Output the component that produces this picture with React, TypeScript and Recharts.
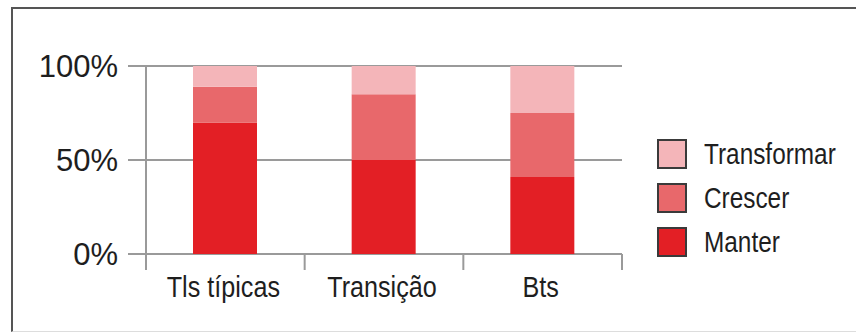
import { BarChart, Bar, XAxis, YAxis, CartesianGrid } from "recharts"

const categories = ["Tls típicas", "Transição", "Bts"]
const manter = [70, 50, 41]
const crescer = [19, 35, 34]
const transformar = [11, 15, 25]
const yTicks = [0, 50, 100]

const series = [
  { key: "manter", name: "Manter", color: "#e31f25" },
  { key: "crescer", name: "Crescer", color: "#e8686b" },
  { key: "transformar", name: "Transformar", color: "#f4b5b9" },
]

const data = categories.map((label, i) => ({
  label,
  manter: manter[i],
  crescer: crescer[i],
  transformar: transformar[i],
}))

const W = 856
const H = 334
const margin = { top: 66, right: 234, bottom: 0, left: 0 }
const yAxisWidth = 146
const plotWidth = W - margin.left - margin.right - yAxisWidth
const halfBand = plotWidth / categories.length / 2
const font = "'Liberation Sans', Arial, sans-serif"
const axisGray = "#9a9a9a"

function XTick({ x, y, payload, index }: any) {
  const last = index === categories.length - 1
  return (
    <g>
      <line x1={x - halfBand} y1={y - 8} x2={x - halfBand} y2={y + 8} stroke={axisGray} strokeWidth={2} />
      {last && (
        <line x1={x + halfBand} y1={y - 8} x2={x + halfBand} y2={y + 8} stroke={axisGray} strokeWidth={2} />
      )}
      <g transform={`translate(${x - 2},${y + 35}) scale(0.84,1)`}>
        <text x={0} y={0} textAnchor="middle" fontSize={30} fill="#1e1e1e" fontFamily={font}>
          {payload.value}
        </text>
      </g>
    </g>
  )
}

function LegendBox() {
  const items = [...series].reverse()
  return (
    <div style={{ position: "absolute", left: 657, top: 132, fontFamily: font }}>
      {items.map((s) => (
        <div key={s.key} style={{ display: "flex", alignItems: "center", height: 44 }}>
          <div
            style={{
              width: 26,
              height: 26,
              background: s.color,
              border: "2px solid #3a3a3a",
              boxSizing: "content-box",
            }}
          />
          <div
            style={{
              marginLeft: 17,
              fontSize: 29,
              color: "#1e1e1e",
              transform: "scale(0.84,1)",
              transformOrigin: "left center",
              lineHeight: "30px",
              whiteSpace: "nowrap",
            }}
          >
            {s.name}
          </div>
        </div>
      ))}
    </div>
  )
}

export default function App() {
  return (
    <div style={{ position: "absolute", left: 0, top: 0, width: W, height: H, overflow: "hidden", background: "#fff" }}>
      <div
        style={{
          position: "absolute",
          left: 11,
          top: 7,
          width: W,
          height: 325,
          borderTop: "2px solid #555",
          borderLeft: "2px solid #555",
          borderBottom: "1px solid #ddd",
          boxSizing: "border-box",
        }}
      />
      <div style={{ position: "absolute", left: 0, top: 0 }}>
        <BarChart width={W} height={H} data={data} margin={margin}>
          <CartesianGrid vertical={false} stroke={axisGray} strokeWidth={2} />
          <XAxis
            dataKey="label"
            axisLine={false}
            tickLine={false}
            tick={<XTick />}
            interval={0}
            height={80}
          />
          <YAxis
            width={yAxisWidth}
            domain={[0, 100]}
            ticks={yTicks}
            tickFormatter={(v) => `${v}%`}
            axisLine={{ stroke: axisGray, strokeWidth: 2 }}
            tickLine={{ stroke: axisGray, strokeWidth: 2 }}
            tickSize={18}
            tickMargin={10}
            tick={{ fontSize: 31, fill: "#1e1e1e", fontFamily: font }}
          />
          {series.map((s) => (
            <Bar
              key={s.key}
              dataKey={s.key}
              name={s.name}
              stackId="a"
              fill={s.color}
              barSize={64}
              isAnimationActive={false}
            />
          ))}
        </BarChart>
      </div>
      <LegendBox />
    </div>
  )
}
